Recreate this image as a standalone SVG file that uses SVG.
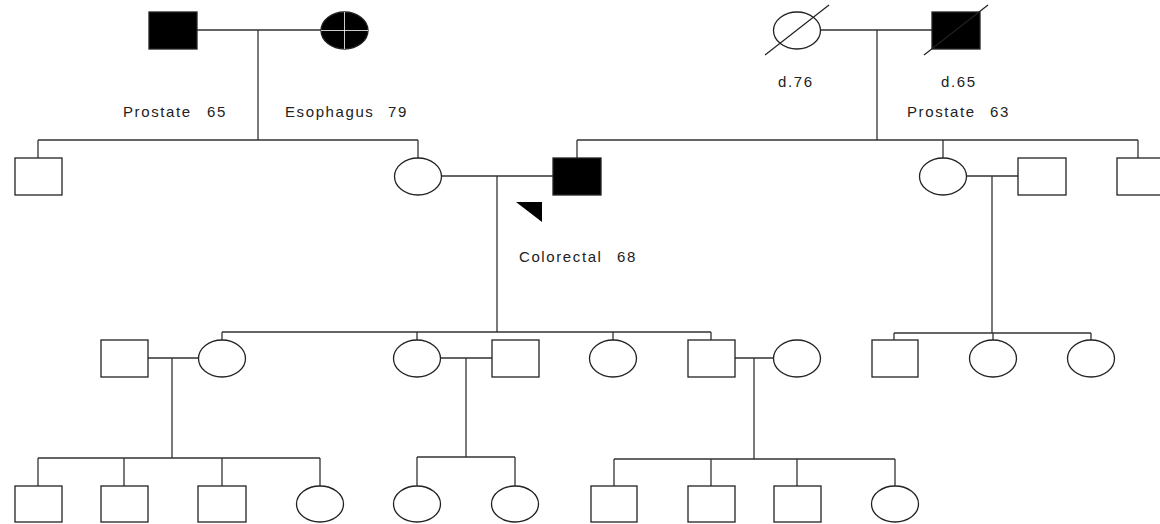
<svg xmlns="http://www.w3.org/2000/svg" width="1160" height="524" viewBox="0 0 1160 524">
  <style>
    .m { fill: #fff; stroke: #222; stroke-width: 1.3; }
    .f { fill: #fff; stroke: #222; stroke-width: 1.3; }
    .aff { fill: #000; stroke: #222; stroke-width: 1.3; }
    .ln { fill: none; stroke: #333; stroke-width: 1.3; }
    .dec { stroke: #222; stroke-width: 1.2; }
    .lbl { font-family: "Liberation Sans", Arial, sans-serif; font-size: 15px; letter-spacing: 1.6px; fill: #222; }
  </style>
  <rect width="1160" height="524" fill="#fff"/>

  <!-- connectors: marriage, descent and sibship lines -->
  <g id="connectors" class="ln">
    <!-- generation I, left couple -->
    <path d="M197 30H321M258 30V140"/>
    <path d="M38 140H418M38 140V158M418 140V158"/>
    <!-- generation I, right couple -->
    <path d="M821 30H932M877 30V140"/>
    <path d="M577 140H1138M577 140V158M943 140V158M1138 140V158"/>
    <!-- generation II couples -->
    <path d="M442 176H553M497 176V332"/>
    <path d="M967 176H1018M992 176V333"/>
    <!-- generation III sibships -->
    <path d="M222 332H711M222 332V340M417 332V340M613 332V340M711 332V340"/>
    <path d="M894 333H1091M894 333V340M993 333V340M1091 333V340"/>
    <!-- generation III couples and their children -->
    <path d="M148 358H198M172 358V458M38 458H320M38 458V486M124 458V486M222 458V486M320 458V486"/>
    <path d="M441 358H492M466 358V457M417 457H515M417 457V486M515 457V486"/>
    <path d="M735 358H774M754 358V459M614 459H895M614 459V486M711 459V486M797 459V486M895 459V486"/>
  </g>

  <!-- generation I -->
  <g id="gp-paternal-m"><rect class="aff" x="149" y="12" width="48" height="37"/></g>
  <g id="gp-paternal-f">
    <ellipse class="aff" cx="344.5" cy="30.5" rx="23.5" ry="18.5"/>
    <path d="M321 30.5H368M344.5 12V49" stroke="#fff" stroke-width="0.8"/>
  </g>
  <g id="gp-maternal-f">
    <ellipse class="f" cx="797" cy="30.5" rx="23.5" ry="18.5"/>
    <line class="dec" x1="765" y1="55" x2="829" y2="5"/>
  </g>
  <g id="gp-maternal-m">
    <rect class="aff" x="932" y="12" width="48" height="37"/>
    <line class="dec" x1="924" y1="55" x2="988" y2="5"/>
  </g>

  <!-- generation II -->
  <g id="uncle-left"><rect class="m" x="15" y="158" width="47" height="37"/></g>
  <g id="mother"><ellipse class="f" cx="418" cy="176.5" rx="23.5" ry="18.5"/></g>
  <g id="proband">
    <rect class="aff" x="553" y="158" width="48" height="37"/>
    <polygon points="516,202 542,202 542,222" fill="#000"/>
  </g>
  <g id="aunt-right"><ellipse class="f" cx="943" cy="176.5" rx="23.5" ry="18.5"/></g>
  <g id="aunt-spouse"><rect class="m" x="1018" y="158" width="48" height="37"/></g>
  <g id="uncle-right"><rect class="m" x="1117" y="158" width="47" height="37"/></g>

  <!-- generation III -->
  <g id="g3-spouse-1"><rect class="m" x="101" y="340" width="47" height="37"/></g>
  <g id="g3-child-1"><ellipse class="f" cx="222" cy="358.5" rx="23.5" ry="18.5"/></g>
  <g id="g3-child-2"><ellipse class="f" cx="417" cy="358.5" rx="23.5" ry="18.5"/></g>
  <g id="g3-spouse-2"><rect class="m" x="492" y="340" width="47" height="37"/></g>
  <g id="g3-child-3"><ellipse class="f" cx="613" cy="358.5" rx="23.5" ry="18.5"/></g>
  <g id="g3-child-4"><rect class="m" x="688" y="340" width="47" height="37"/></g>
  <g id="g3-spouse-4"><ellipse class="f" cx="797" cy="358.5" rx="23.5" ry="18.5"/></g>
  <g id="g3-cousin-1"><rect class="m" x="872" y="340" width="46" height="37"/></g>
  <g id="g3-cousin-2"><ellipse class="f" cx="993" cy="358.5" rx="23.5" ry="18.5"/></g>
  <g id="g3-cousin-3"><ellipse class="f" cx="1091" cy="358.5" rx="23.5" ry="18.5"/></g>

  <!-- generation IV -->
  <g id="g4-1"><rect class="m" x="15" y="486" width="47" height="36"/></g>
  <g id="g4-2"><rect class="m" x="101" y="486" width="47" height="36"/></g>
  <g id="g4-3"><rect class="m" x="198" y="486" width="48" height="36"/></g>
  <g id="g4-4"><ellipse class="f" cx="320" cy="504" rx="23.5" ry="18"/></g>
  <g id="g4-5"><ellipse class="f" cx="417" cy="504" rx="23.5" ry="18"/></g>
  <g id="g4-6"><ellipse class="f" cx="515" cy="504" rx="23.5" ry="18"/></g>
  <g id="g4-7"><rect class="m" x="591" y="486" width="46" height="36"/></g>
  <g id="g4-8"><rect class="m" x="688" y="486" width="47" height="36"/></g>
  <g id="g4-9"><rect class="m" x="774" y="486" width="47" height="36"/></g>
  <g id="g4-10"><ellipse class="f" cx="895" cy="504" rx="23.5" ry="18"/></g>

  <!-- annotations -->
  <g id="labels" class="lbl">
    <text x="123" y="117">Prostate</text><text x="207" y="117">65</text>
    <text x="285" y="117">Esophagus</text><text x="388" y="117">79</text>
    <text x="778" y="87">d.76</text>
    <text x="941" y="87">d.65</text>
    <text x="907" y="117">Prostate</text><text x="990" y="117">63</text>
    <text x="519" y="262">Colorectal</text><text x="617" y="262">68</text>
  </g>
</svg>
